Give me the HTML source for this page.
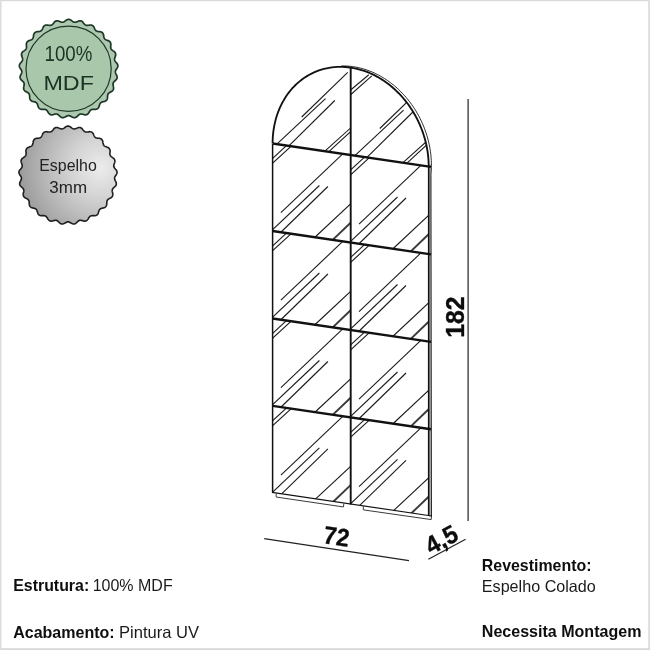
<!DOCTYPE html>
<html><head><meta charset="utf-8"><title>Espelho</title>
<style>
html,body{margin:0;padding:0;background:#fff;}
body{width:650px;height:650px;overflow:hidden;font-family:"Liberation Sans",sans-serif;}
svg{display:block;will-change:transform;}
</style></head><body>
<svg width="650" height="650" viewBox="0 0 650 650">
<defs>
<radialGradient id="silver" gradientUnits="userSpaceOnUse" cx="100" cy="168" r="85"><stop offset="0" stop-color="#ececec"/><stop offset="0.35" stop-color="#d3d3d3"/><stop offset="0.75" stop-color="#aeaeae"/><stop offset="1" stop-color="#969696"/></radialGradient>
<clipPath id="cAL"><polygon points="350.70,155.01 350.70,0.00 350.65,67.60 347.93,67.26 345.21,67.01 342.49,66.88 339.79,66.85 337.10,66.93 334.42,67.12 331.77,67.42 329.14,67.82 326.53,68.33 323.96,68.94 321.41,69.66 318.90,70.48 316.44,71.41 314.01,72.43 311.62,73.56 309.29,74.79 307.00,76.11 304.77,77.53 302.60,79.05 300.48,80.66 298.42,82.36 296.43,84.14 294.51,86.02 292.65,87.97 290.86,90.01 289.15,92.13 287.51,94.32 285.94,96.59 284.46,98.93 283.06,101.34 281.74,103.81 280.50,106.35 279.35,108.95 278.28,111.60 277.31,114.30 276.42,117.05 275.62,119.85 274.92,122.70 274.31,125.58 273.79,128.50 273.36,131.45 273.03,134.43 272.79,137.43 272.65,140.46 272.60,143.50 272.60,143.50"/></clipPath>
<clipPath id="cAR"><polygon points="428.70,166.51 428.70,166.51 428.65,163.45 428.51,160.38 428.27,157.31 427.94,154.23 427.51,151.16 426.99,148.09 426.38,145.02 425.68,141.97 424.88,138.94 423.99,135.92 423.02,132.93 421.95,129.97 420.80,127.03 419.56,124.13 418.24,121.27 416.84,118.45 415.36,115.67 413.79,112.94 412.15,110.26 410.44,107.64 408.65,105.07 406.79,102.57 404.87,100.13 402.88,97.75 400.82,95.45 398.70,93.22 396.53,91.06 394.30,88.98 392.01,86.98 389.67,85.07 387.29,83.24 384.86,81.49 382.40,79.84 379.89,78.28 377.34,76.81 374.77,75.44 372.16,74.16 369.53,72.98 366.88,71.91 364.20,70.93 361.51,70.06 358.81,69.29 356.09,68.62 353.37,68.06 350.70,0.00 350.70,155.01"/></clipPath>
<clipPath id="c00"><polygon points="272.60,143.50 350.70,155.01 350.70,242.51 272.60,231.00"/></clipPath>
<clipPath id="c01"><polygon points="350.70,155.01 428.70,166.51 428.70,254.01 350.70,242.51"/></clipPath>
<clipPath id="c10"><polygon points="272.60,231.00 350.70,242.51 350.70,330.01 272.60,318.50"/></clipPath>
<clipPath id="c11"><polygon points="350.70,242.51 428.70,254.01 428.70,341.51 350.70,330.01"/></clipPath>
<clipPath id="c20"><polygon points="272.60,318.50 350.70,330.01 350.70,417.41 272.60,405.90"/></clipPath>
<clipPath id="c21"><polygon points="350.70,330.01 428.70,341.51 428.70,428.91 350.70,417.41"/></clipPath>
<clipPath id="c30"><polygon points="272.60,405.90 350.70,417.41 350.70,504.01 272.60,492.50"/></clipPath>
<clipPath id="c31"><polygon points="350.70,417.41 428.70,428.91 428.70,515.51 350.70,504.01"/></clipPath>
</defs>
<rect x="0" y="0" width="650" height="650" fill="#fff"/>
<rect x="0" y="0" width="650" height="1.2" fill="#d9d9d9"/>
<rect x="0" y="0" width="1.5" height="650" fill="#dcdcdc"/>
<rect x="648.2" y="0" width="1.8" height="650" fill="#dcdddd"/>
<rect x="0" y="648.2" width="650" height="1.8" fill="#d9d9d9"/>
<path d="M116.70,68.70 L117.09,68.19 L117.38,67.68 L117.61,67.16 L117.76,66.64 L117.85,66.12 L117.85,65.60 L117.78,65.09 L117.63,64.58 L117.41,64.09 L117.13,63.60 L116.77,63.13 L116.32,62.67 L115.93,62.22 L115.57,61.76 L115.23,61.31 L114.96,60.86 L114.75,60.40 L114.62,59.92 L114.57,59.43 L114.59,58.92 L114.68,58.40 L114.82,57.86 L115.00,57.30 L115.19,56.74 L115.44,56.15 L115.60,55.58 L115.68,55.02 L115.71,54.48 L115.66,53.95 L115.53,53.45 L115.34,52.97 L115.07,52.52 L114.73,52.09 L114.33,51.69 L113.88,51.32 L113.32,50.99 L112.83,50.65 L112.37,50.30 L111.93,49.95 L111.55,49.58 L111.24,49.18 L110.99,48.75 L110.82,48.29 L110.71,47.79 L110.67,47.26 L110.67,46.71 L110.71,46.12 L110.75,45.53 L110.85,44.89 L110.86,44.30 L110.80,43.74 L110.69,43.21 L110.51,42.71 L110.27,42.26 L109.96,41.84 L109.58,41.47 L109.15,41.14 L108.67,40.85 L108.13,40.61 L107.51,40.43 L106.96,40.21 L106.42,40.00 L105.91,39.76 L105.45,39.50 L105.04,39.19 L104.70,38.84 L104.42,38.43 L104.19,37.98 L104.02,37.48 L103.88,36.93 L103.77,36.36 L103.66,35.77 L103.60,35.13 L103.46,34.56 L103.27,34.03 L103.03,33.54 L102.73,33.11 L102.38,32.73 L101.98,32.40 L101.53,32.13 L101.02,31.92 L100.48,31.76 L99.90,31.66 L99.26,31.64 L98.67,31.57 L98.09,31.49 L97.54,31.39 L97.03,31.25 L96.56,31.05 L96.14,30.80 L95.76,30.48 L95.43,30.09 L95.14,29.65 L94.87,29.16 L94.62,28.63 L94.37,28.09 L94.16,27.48 L93.88,26.96 L93.56,26.50 L93.20,26.09 L92.81,25.74 L92.37,25.45 L91.90,25.24 L91.40,25.09 L90.86,25.01 L90.30,25.00 L89.71,25.04 L89.08,25.18 L88.49,25.26 L87.91,25.33 L87.35,25.37 L86.82,25.36 L86.32,25.28 L85.85,25.14 L85.40,24.92 L84.99,24.63 L84.59,24.28 L84.21,23.87 L83.84,23.42 L83.46,22.95 L83.10,22.42 L82.70,21.99 L82.28,21.62 L81.83,21.31 L81.36,21.07 L80.87,20.90 L80.36,20.81 L79.84,20.79 L79.30,20.85 L78.74,20.97 L78.19,21.16 L77.61,21.45 L77.06,21.68 L76.52,21.89 L75.99,22.07 L75.47,22.19 L74.96,22.24 L74.47,22.22 L73.99,22.12 L73.51,21.94 L73.04,21.69 L72.57,21.39 L72.10,21.05 L71.62,20.69 L71.14,20.27 L70.64,19.95 L70.14,19.69 L69.63,19.50 L69.12,19.39 L68.60,19.35 L68.08,19.39 L67.57,19.50 L67.06,19.69 L66.56,19.95 L66.06,20.27 L65.58,20.69 L65.10,21.05 L64.63,21.39 L64.16,21.69 L63.69,21.94 L63.21,22.12 L62.73,22.22 L62.24,22.24 L61.73,22.19 L61.21,22.07 L60.68,21.89 L60.14,21.68 L59.59,21.45 L59.01,21.16 L58.46,20.97 L57.90,20.85 L57.36,20.79 L56.84,20.81 L56.33,20.90 L55.84,21.07 L55.37,21.31 L54.92,21.62 L54.50,21.99 L54.10,22.42 L53.74,22.95 L53.36,23.42 L52.99,23.87 L52.61,24.28 L52.21,24.63 L51.80,24.92 L51.35,25.14 L50.88,25.28 L50.38,25.36 L49.85,25.37 L49.29,25.33 L48.71,25.26 L48.12,25.18 L47.49,25.04 L46.90,25.00 L46.34,25.01 L45.80,25.09 L45.30,25.24 L44.83,25.45 L44.39,25.74 L44.00,26.09 L43.64,26.50 L43.32,26.96 L43.04,27.48 L42.83,28.09 L42.58,28.63 L42.33,29.16 L42.06,29.65 L41.77,30.09 L41.44,30.48 L41.06,30.80 L40.64,31.05 L40.17,31.25 L39.66,31.39 L39.11,31.49 L38.53,31.57 L37.94,31.64 L37.30,31.66 L36.72,31.76 L36.18,31.92 L35.67,32.13 L35.22,32.40 L34.82,32.73 L34.47,33.11 L34.17,33.54 L33.93,34.03 L33.74,34.56 L33.60,35.13 L33.54,35.77 L33.43,36.36 L33.32,36.93 L33.18,37.48 L33.01,37.98 L32.78,38.43 L32.50,38.84 L32.16,39.19 L31.75,39.50 L31.29,39.76 L30.78,40.00 L30.24,40.21 L29.69,40.43 L29.07,40.61 L28.53,40.85 L28.05,41.14 L27.62,41.47 L27.24,41.84 L26.93,42.26 L26.69,42.71 L26.51,43.21 L26.40,43.74 L26.34,44.30 L26.35,44.89 L26.45,45.53 L26.49,46.12 L26.53,46.71 L26.53,47.26 L26.49,47.79 L26.38,48.29 L26.21,48.75 L25.96,49.18 L25.65,49.58 L25.27,49.95 L24.83,50.30 L24.37,50.65 L23.88,50.99 L23.32,51.32 L22.87,51.69 L22.47,52.09 L22.13,52.52 L21.86,52.97 L21.67,53.45 L21.54,53.95 L21.49,54.48 L21.52,55.02 L21.60,55.58 L21.76,56.15 L22.01,56.74 L22.20,57.30 L22.38,57.86 L22.52,58.40 L22.61,58.92 L22.63,59.43 L22.58,59.92 L22.45,60.40 L22.24,60.86 L21.97,61.31 L21.63,61.76 L21.27,62.22 L20.88,62.67 L20.43,63.13 L20.07,63.60 L19.79,64.09 L19.57,64.58 L19.42,65.09 L19.35,65.60 L19.35,66.12 L19.44,66.64 L19.59,67.16 L19.82,67.68 L20.11,68.19 L20.50,68.70 L20.83,69.20 L21.14,69.69 L21.41,70.18 L21.62,70.67 L21.77,71.15 L21.84,71.64 L21.83,72.13 L21.75,72.63 L21.59,73.14 L21.39,73.66 L21.14,74.19 L20.88,74.73 L20.55,75.28 L20.33,75.83 L20.17,76.37 L20.08,76.91 L20.07,77.43 L20.12,77.95 L20.26,78.45 L20.47,78.93 L20.75,79.40 L21.10,79.84 L21.50,80.27 L22.01,80.66 L22.45,81.07 L22.87,81.47 L23.26,81.87 L23.59,82.29 L23.85,82.72 L24.04,83.18 L24.16,83.66 L24.20,84.16 L24.18,84.69 L24.10,85.25 L24.00,85.82 L23.88,86.41 L23.70,87.02 L23.62,87.61 L23.60,88.17 L23.65,88.71 L23.76,89.23 L23.95,89.71 L24.20,90.16 L24.53,90.58 L24.91,90.96 L25.36,91.31 L25.86,91.62 L26.45,91.87 L26.98,92.15 L27.49,92.44 L27.96,92.73 L28.38,93.06 L28.75,93.41 L29.04,93.80 L29.27,94.24 L29.44,94.72 L29.55,95.24 L29.62,95.79 L29.66,96.38 L29.69,96.97 L29.67,97.61 L29.73,98.20 L29.86,98.75 L30.04,99.26 L30.28,99.73 L30.58,100.16 L30.93,100.53 L31.35,100.85 L31.82,101.12 L32.34,101.35 L32.90,101.53 L33.54,101.63 L34.12,101.77 L34.68,101.92 L35.21,102.09 L35.70,102.29 L36.14,102.55 L36.53,102.85 L36.86,103.22 L37.14,103.64 L37.38,104.12 L37.58,104.64 L37.76,105.19 L37.94,105.76 L38.08,106.39 L38.29,106.94 L38.55,107.44 L38.85,107.89 L39.20,108.29 L39.59,108.62 L40.03,108.90 L40.52,109.11 L41.04,109.25 L41.60,109.34 L42.19,109.37 L42.83,109.31 L43.42,109.30 L44.01,109.31 L44.57,109.34 L45.09,109.42 L45.58,109.55 L46.03,109.75 L46.44,110.03 L46.82,110.37 L47.16,110.77 L47.49,111.22 L47.81,111.71 L48.12,112.22 L48.41,112.79 L48.75,113.28 L49.13,113.70 L49.53,114.06 L49.97,114.36 L50.43,114.58 L50.93,114.74 L51.45,114.82 L51.99,114.83 L52.55,114.78 L53.13,114.66 L53.74,114.45 L54.31,114.29 L54.88,114.15 L55.43,114.04 L55.96,113.99 L56.46,113.99 L56.95,114.08 L57.41,114.24 L57.86,114.48 L58.30,114.78 L58.73,115.14 L59.16,115.53 L59.59,115.95 L60.01,116.43 L60.46,116.81 L60.93,117.13 L61.41,117.38 L61.91,117.56 L62.41,117.66 L62.93,117.69 L63.46,117.64 L63.99,117.51 L64.52,117.32 L65.05,117.07 L65.58,116.71 L66.10,116.41 L66.61,116.13 L67.12,115.89 L67.62,115.71 L68.11,115.59 L68.60,115.55 L69.09,115.59 L69.58,115.71 L70.08,115.89 L70.59,116.13 L71.10,116.41 L71.62,116.71 L72.15,117.07 L72.68,117.32 L73.21,117.51 L73.74,117.64 L74.27,117.69 L74.79,117.66 L75.29,117.56 L75.79,117.38 L76.27,117.13 L76.74,116.81 L77.19,116.43 L77.61,115.95 L78.04,115.53 L78.47,115.14 L78.90,114.78 L79.34,114.48 L79.79,114.24 L80.25,114.08 L80.74,113.99 L81.24,113.99 L81.77,114.04 L82.32,114.15 L82.89,114.29 L83.46,114.45 L84.07,114.66 L84.65,114.78 L85.21,114.83 L85.75,114.82 L86.27,114.74 L86.77,114.58 L87.23,114.36 L87.67,114.06 L88.07,113.70 L88.45,113.28 L88.79,112.79 L89.08,112.22 L89.39,111.71 L89.71,111.22 L90.04,110.77 L90.38,110.37 L90.76,110.03 L91.17,109.75 L91.62,109.55 L92.11,109.42 L92.63,109.34 L93.19,109.31 L93.78,109.30 L94.37,109.31 L95.01,109.37 L95.60,109.34 L96.16,109.25 L96.68,109.11 L97.17,108.90 L97.61,108.62 L98.00,108.29 L98.35,107.89 L98.65,107.44 L98.91,106.94 L99.12,106.39 L99.26,105.76 L99.44,105.19 L99.62,104.64 L99.82,104.12 L100.06,103.64 L100.34,103.22 L100.67,102.85 L101.06,102.55 L101.50,102.29 L101.99,102.09 L102.52,101.92 L103.08,101.77 L103.66,101.63 L104.30,101.53 L104.86,101.35 L105.38,101.12 L105.85,100.85 L106.27,100.53 L106.62,100.16 L106.92,99.73 L107.16,99.26 L107.34,98.75 L107.47,98.20 L107.53,97.61 L107.51,96.97 L107.54,96.38 L107.58,95.79 L107.65,95.24 L107.76,94.72 L107.93,94.24 L108.16,93.80 L108.45,93.41 L108.82,93.06 L109.24,92.73 L109.71,92.44 L110.22,92.15 L110.75,91.87 L111.34,91.62 L111.84,91.31 L112.29,90.96 L112.67,90.58 L113.00,90.16 L113.25,89.71 L113.44,89.23 L113.55,88.71 L113.60,88.17 L113.58,87.61 L113.50,87.02 L113.32,86.41 L113.20,85.82 L113.10,85.25 L113.02,84.69 L113.00,84.16 L113.04,83.66 L113.16,83.18 L113.35,82.72 L113.61,82.29 L113.94,81.87 L114.33,81.47 L114.75,81.07 L115.19,80.66 L115.70,80.27 L116.10,79.84 L116.45,79.40 L116.73,78.93 L116.94,78.45 L117.08,77.95 L117.13,77.43 L117.12,76.91 L117.03,76.37 L116.87,75.83 L116.65,75.28 L116.32,74.73 L116.06,74.19 L115.81,73.66 L115.61,73.14 L115.45,72.63 L115.37,72.13 L115.36,71.64 L115.43,71.15 L115.58,70.67 L115.79,70.18 L116.06,69.69 L116.37,69.20 L116.70,68.70Z" fill="#aec8b0" stroke="#1d3826" stroke-width="1.7" stroke-linejoin="round"/>
<circle cx="68.6" cy="68.7" r="42.6" fill="#a9c7ab" stroke="#1d3826" stroke-width="1.2"/>
<text x="68.4" y="61.0" text-anchor="middle" font-family="Liberation Sans, sans-serif" font-size="21.5" fill="#1c3323" textLength="47.8" lengthAdjust="spacingAndGlyphs">100%</text>
<text x="68.7" y="90.3" text-anchor="middle" font-family="Liberation Sans, sans-serif" font-size="21" fill="#1c3323" textLength="50.5" lengthAdjust="spacingAndGlyphs">MDF</text>
<path d="M115.90,175.20 L116.29,174.69 L116.58,174.18 L116.81,173.67 L116.96,173.15 L117.05,172.63 L117.05,172.11 L116.98,171.60 L116.83,171.10 L116.61,170.60 L116.33,170.12 L115.98,169.65 L115.52,169.20 L115.14,168.74 L114.77,168.29 L114.44,167.85 L114.16,167.39 L113.95,166.93 L113.82,166.46 L113.77,165.97 L113.79,165.47 L113.88,164.94 L114.03,164.40 L114.20,163.85 L114.40,163.29 L114.65,162.70 L114.80,162.13 L114.89,161.58 L114.91,161.04 L114.87,160.51 L114.74,160.01 L114.55,159.53 L114.28,159.08 L113.94,158.66 L113.55,158.26 L113.09,157.89 L112.54,157.57 L112.05,157.22 L111.58,156.88 L111.15,156.53 L110.77,156.16 L110.45,155.76 L110.21,155.34 L110.04,154.88 L109.93,154.38 L109.89,153.86 L109.90,153.30 L109.93,152.72 L109.98,152.12 L110.08,151.49 L110.08,150.90 L110.03,150.34 L109.92,149.81 L109.74,149.32 L109.50,148.86 L109.19,148.45 L108.82,148.08 L108.39,147.75 L107.90,147.47 L107.37,147.22 L106.75,147.05 L106.20,146.83 L105.66,146.62 L105.15,146.38 L104.69,146.12 L104.29,145.82 L103.94,145.46 L103.66,145.06 L103.44,144.61 L103.27,144.11 L103.13,143.57 L103.02,143.00 L102.92,142.41 L102.86,141.77 L102.72,141.20 L102.53,140.67 L102.29,140.19 L101.99,139.75 L101.65,139.37 L101.24,139.05 L100.79,138.78 L100.29,138.57 L99.75,138.41 L99.17,138.31 L98.53,138.29 L97.94,138.23 L97.36,138.15 L96.82,138.05 L96.31,137.91 L95.84,137.71 L95.42,137.46 L95.05,137.14 L94.72,136.76 L94.43,136.31 L94.16,135.82 L93.91,135.30 L93.67,134.76 L93.45,134.15 L93.17,133.63 L92.86,133.17 L92.50,132.76 L92.11,132.41 L91.68,132.13 L91.21,131.92 L90.70,131.77 L90.17,131.69 L89.61,131.67 L89.02,131.72 L88.39,131.86 L87.81,131.94 L87.23,132.01 L86.67,132.05 L86.14,132.04 L85.64,131.97 L85.17,131.83 L84.73,131.61 L84.32,131.32 L83.93,130.96 L83.55,130.55 L83.17,130.11 L82.80,129.64 L82.44,129.11 L82.05,128.68 L81.62,128.31 L81.18,128.00 L80.71,127.76 L80.22,127.59 L79.72,127.50 L79.19,127.49 L78.65,127.54 L78.10,127.67 L77.55,127.86 L76.98,128.15 L76.43,128.38 L75.88,128.59 L75.35,128.76 L74.84,128.88 L74.34,128.94 L73.85,128.92 L73.37,128.82 L72.89,128.64 L72.42,128.39 L71.96,128.09 L71.48,127.75 L71.01,127.39 L70.53,126.97 L70.03,126.65 L69.53,126.39 L69.03,126.20 L68.51,126.09 L68.00,126.05 L67.49,126.09 L66.97,126.20 L66.47,126.39 L65.97,126.65 L65.47,126.97 L64.99,127.39 L64.52,127.75 L64.04,128.09 L63.58,128.39 L63.11,128.64 L62.63,128.82 L62.15,128.92 L61.66,128.94 L61.16,128.88 L60.65,128.76 L60.12,128.59 L59.57,128.38 L59.02,128.15 L58.45,127.86 L57.90,127.67 L57.35,127.54 L56.81,127.49 L56.28,127.50 L55.78,127.59 L55.29,127.76 L54.82,128.00 L54.38,128.31 L53.95,128.68 L53.56,129.11 L53.20,129.64 L52.83,130.11 L52.45,130.55 L52.07,130.96 L51.68,131.32 L51.27,131.61 L50.83,131.83 L50.36,131.97 L49.86,132.04 L49.33,132.05 L48.77,132.01 L48.19,131.94 L47.61,131.86 L46.98,131.72 L46.39,131.67 L45.83,131.69 L45.30,131.77 L44.79,131.92 L44.32,132.13 L43.89,132.41 L43.50,132.76 L43.14,133.17 L42.83,133.63 L42.55,134.15 L42.33,134.76 L42.09,135.30 L41.84,135.82 L41.57,136.31 L41.28,136.76 L40.95,137.14 L40.58,137.46 L40.16,137.71 L39.69,137.91 L39.18,138.05 L38.64,138.15 L38.06,138.23 L37.47,138.29 L36.83,138.31 L36.25,138.41 L35.71,138.57 L35.21,138.78 L34.76,139.05 L34.35,139.37 L34.01,139.75 L33.71,140.19 L33.47,140.67 L33.28,141.20 L33.14,141.77 L33.08,142.41 L32.98,143.00 L32.87,143.57 L32.73,144.11 L32.56,144.61 L32.34,145.06 L32.06,145.46 L31.71,145.82 L31.31,146.12 L30.85,146.38 L30.34,146.62 L29.80,146.83 L29.25,147.05 L28.63,147.22 L28.10,147.47 L27.61,147.75 L27.18,148.08 L26.81,148.45 L26.50,148.86 L26.26,149.32 L26.08,149.81 L25.97,150.34 L25.92,150.90 L25.92,151.49 L26.02,152.12 L26.07,152.72 L26.10,153.30 L26.11,153.86 L26.07,154.38 L25.96,154.88 L25.79,155.34 L25.55,155.76 L25.23,156.16 L24.85,156.53 L24.42,156.88 L23.95,157.22 L23.46,157.57 L22.91,157.89 L22.45,158.26 L22.06,158.66 L21.72,159.08 L21.45,159.53 L21.26,160.01 L21.13,160.51 L21.09,161.04 L21.11,161.58 L21.20,162.13 L21.35,162.70 L21.60,163.29 L21.80,163.85 L21.97,164.40 L22.12,164.94 L22.21,165.47 L22.23,165.97 L22.18,166.46 L22.05,166.93 L21.84,167.39 L21.56,167.85 L21.23,168.29 L20.86,168.74 L20.48,169.20 L20.02,169.65 L19.67,170.12 L19.39,170.60 L19.17,171.10 L19.02,171.60 L18.95,172.11 L18.95,172.63 L19.04,173.15 L19.19,173.67 L19.42,174.18 L19.71,174.69 L20.10,175.20 L20.43,175.70 L20.74,176.19 L21.01,176.68 L21.22,177.16 L21.37,177.64 L21.44,178.13 L21.43,178.62 L21.35,179.12 L21.19,179.62 L20.98,180.14 L20.74,180.67 L20.48,181.20 L20.15,181.75 L19.93,182.30 L19.77,182.84 L19.68,183.37 L19.66,183.90 L19.72,184.41 L19.86,184.91 L20.06,185.39 L20.34,185.85 L20.69,186.30 L21.10,186.72 L21.60,187.11 L22.04,187.51 L22.47,187.91 L22.85,188.32 L23.18,188.73 L23.44,189.16 L23.63,189.62 L23.75,190.09 L23.79,190.60 L23.76,191.13 L23.69,191.68 L23.58,192.25 L23.46,192.83 L23.28,193.45 L23.20,194.03 L23.19,194.59 L23.23,195.13 L23.34,195.65 L23.53,196.13 L23.78,196.58 L24.10,196.99 L24.49,197.37 L24.94,197.71 L25.44,198.02 L26.02,198.28 L26.55,198.56 L27.06,198.84 L27.53,199.13 L27.95,199.45 L28.32,199.80 L28.61,200.20 L28.84,200.63 L29.00,201.11 L29.11,201.63 L29.18,202.18 L29.22,202.76 L29.25,203.35 L29.23,204.00 L29.29,204.58 L29.42,205.13 L29.59,205.64 L29.83,206.11 L30.13,206.53 L30.49,206.90 L30.90,207.22 L31.37,207.49 L31.89,207.72 L32.45,207.89 L33.08,207.99 L33.66,208.13 L34.22,208.28 L34.75,208.45 L35.24,208.65 L35.68,208.90 L36.07,209.21 L36.39,209.57 L36.67,209.99 L36.91,210.47 L37.11,210.99 L37.29,211.54 L37.47,212.11 L37.61,212.73 L37.82,213.28 L38.07,213.78 L38.37,214.23 L38.72,214.63 L39.11,214.96 L39.55,215.23 L40.03,215.44 L40.55,215.59 L41.11,215.67 L41.70,215.70 L42.33,215.64 L42.93,215.63 L43.51,215.64 L44.07,215.67 L44.59,215.75 L45.08,215.88 L45.53,216.08 L45.94,216.35 L46.31,216.69 L46.66,217.09 L46.98,217.54 L47.29,218.03 L47.61,218.54 L47.90,219.11 L48.24,219.59 L48.61,220.01 L49.01,220.38 L49.44,220.67 L49.91,220.90 L50.40,221.05 L50.92,221.13 L51.46,221.14 L52.02,221.09 L52.60,220.97 L53.20,220.76 L53.77,220.60 L54.34,220.46 L54.88,220.35 L55.41,220.29 L55.92,220.30 L56.40,220.38 L56.86,220.54 L57.31,220.78 L57.74,221.08 L58.17,221.44 L58.60,221.84 L59.02,222.25 L59.45,222.73 L59.90,223.11 L60.36,223.43 L60.84,223.68 L61.33,223.86 L61.84,223.96 L62.36,223.99 L62.88,223.94 L63.40,223.81 L63.93,223.62 L64.46,223.37 L64.99,223.01 L65.51,222.71 L66.02,222.43 L66.52,222.19 L67.02,222.01 L67.51,221.89 L68.00,221.85 L68.49,221.89 L68.98,222.01 L69.48,222.19 L69.98,222.43 L70.49,222.71 L71.01,223.01 L71.54,223.37 L72.07,223.62 L72.60,223.81 L73.12,223.94 L73.64,223.99 L74.16,223.96 L74.67,223.86 L75.16,223.68 L75.64,223.43 L76.10,223.11 L76.55,222.73 L76.98,222.25 L77.40,221.84 L77.83,221.44 L78.26,221.08 L78.69,220.78 L79.14,220.54 L79.60,220.38 L80.08,220.30 L80.59,220.29 L81.12,220.35 L81.66,220.46 L82.23,220.60 L82.80,220.76 L83.40,220.97 L83.98,221.09 L84.54,221.14 L85.08,221.13 L85.60,221.05 L86.09,220.90 L86.56,220.67 L86.99,220.38 L87.39,220.01 L87.76,219.59 L88.10,219.11 L88.39,218.54 L88.71,218.03 L89.02,217.54 L89.34,217.09 L89.69,216.69 L90.06,216.35 L90.47,216.08 L90.92,215.88 L91.41,215.75 L91.93,215.67 L92.49,215.64 L93.07,215.63 L93.67,215.64 L94.30,215.70 L94.89,215.67 L95.45,215.59 L95.97,215.44 L96.45,215.23 L96.89,214.96 L97.28,214.63 L97.63,214.23 L97.93,213.78 L98.18,213.28 L98.39,212.73 L98.53,212.11 L98.71,211.54 L98.89,210.99 L99.09,210.47 L99.33,209.99 L99.61,209.57 L99.93,209.21 L100.32,208.90 L100.76,208.65 L101.25,208.45 L101.78,208.28 L102.34,208.13 L102.92,207.99 L103.55,207.89 L104.11,207.72 L104.63,207.49 L105.10,207.22 L105.51,206.90 L105.87,206.53 L106.17,206.11 L106.41,205.64 L106.58,205.13 L106.71,204.58 L106.77,204.00 L106.75,203.35 L106.78,202.76 L106.82,202.18 L106.89,201.63 L107.00,201.11 L107.16,200.63 L107.39,200.20 L107.68,199.80 L108.05,199.45 L108.47,199.13 L108.94,198.84 L109.45,198.56 L109.98,198.28 L110.56,198.02 L111.06,197.71 L111.51,197.37 L111.90,196.99 L112.22,196.58 L112.47,196.13 L112.66,195.65 L112.77,195.13 L112.81,194.59 L112.80,194.03 L112.72,193.45 L112.54,192.83 L112.42,192.25 L112.31,191.68 L112.24,191.13 L112.21,190.60 L112.25,190.09 L112.37,189.62 L112.56,189.16 L112.82,188.73 L113.15,188.32 L113.53,187.91 L113.96,187.51 L114.40,187.11 L114.90,186.72 L115.31,186.30 L115.66,185.85 L115.94,185.39 L116.14,184.91 L116.28,184.41 L116.34,183.90 L116.32,183.37 L116.23,182.84 L116.07,182.30 L115.85,181.75 L115.52,181.20 L115.26,180.67 L115.02,180.14 L114.81,179.62 L114.65,179.12 L114.57,178.62 L114.56,178.13 L114.63,177.64 L114.78,177.16 L114.99,176.68 L115.26,176.19 L115.57,175.70 L115.90,175.20Z" fill="url(#silver)" stroke="#1f1f1f" stroke-width="1.6" stroke-linejoin="round"/>
<text x="68" y="170.6" text-anchor="middle" font-family="Liberation Sans, sans-serif" font-size="15.8" fill="#222" textLength="57.5" lengthAdjust="spacingAndGlyphs">Espelho</text>
<text x="68.2" y="193" text-anchor="middle" font-family="Liberation Sans, sans-serif" font-size="15.8" fill="#222" textLength="37.7" lengthAdjust="spacingAndGlyphs">3mm</text>
<g clip-path="url(#c00)" stroke="#1a1a1a" fill="none" stroke-linecap="butt">
<line x1="270.60" y1="160.20" x2="288.60" y2="143.70" stroke-width="1.1"/>
<line x1="270.60" y1="165.10" x2="292.60" y2="144.90" stroke-width="1.1"/>
<line x1="280.90" y1="212.70" x2="344.60" y2="152.20" stroke-width="1.1"/>
<line x1="270.60" y1="231.60" x2="319.40" y2="185.50" stroke-width="1.1"/>
<line x1="280.60" y1="232.50" x2="327.90" y2="186.50" stroke-width="1.1"/>
<line x1="314.60" y1="237.50" x2="352.60" y2="202.00" stroke-width="1.1"/>
<line x1="330.60" y1="241.90" x2="352.60" y2="220.80" stroke-width="1.9" stroke="#3a3a3a"/>
</g>
<g clip-path="url(#c01)" stroke="#1a1a1a" fill="none" stroke-linecap="butt">
<line x1="348.70" y1="171.71" x2="366.70" y2="155.21" stroke-width="1.1"/>
<line x1="348.70" y1="176.61" x2="370.70" y2="156.41" stroke-width="1.1"/>
<line x1="359.00" y1="224.21" x2="422.70" y2="163.71" stroke-width="1.1"/>
<line x1="348.70" y1="243.11" x2="397.50" y2="197.01" stroke-width="1.1"/>
<line x1="358.70" y1="244.01" x2="406.00" y2="198.01" stroke-width="1.1"/>
<line x1="392.70" y1="249.01" x2="430.70" y2="213.51" stroke-width="1.1"/>
<line x1="408.70" y1="253.41" x2="430.70" y2="232.31" stroke-width="1.9" stroke="#3a3a3a"/>
</g>
<g clip-path="url(#c10)" stroke="#1a1a1a" fill="none" stroke-linecap="butt">
<line x1="270.60" y1="247.70" x2="288.60" y2="231.20" stroke-width="1.1"/>
<line x1="270.60" y1="252.60" x2="292.60" y2="232.40" stroke-width="1.1"/>
<line x1="280.90" y1="300.20" x2="344.60" y2="239.70" stroke-width="1.1"/>
<line x1="270.60" y1="319.10" x2="319.40" y2="273.00" stroke-width="1.1"/>
<line x1="280.60" y1="320.00" x2="327.90" y2="274.00" stroke-width="1.1"/>
<line x1="314.60" y1="325.00" x2="352.60" y2="289.50" stroke-width="1.1"/>
<line x1="330.60" y1="329.40" x2="352.60" y2="308.30" stroke-width="1.9" stroke="#3a3a3a"/>
</g>
<g clip-path="url(#c11)" stroke="#1a1a1a" fill="none" stroke-linecap="butt">
<line x1="348.70" y1="259.21" x2="366.70" y2="242.71" stroke-width="1.1"/>
<line x1="348.70" y1="264.11" x2="370.70" y2="243.91" stroke-width="1.1"/>
<line x1="359.00" y1="311.71" x2="422.70" y2="251.21" stroke-width="1.1"/>
<line x1="348.70" y1="330.61" x2="397.50" y2="284.51" stroke-width="1.1"/>
<line x1="358.70" y1="331.51" x2="406.00" y2="285.51" stroke-width="1.1"/>
<line x1="392.70" y1="336.51" x2="430.70" y2="301.01" stroke-width="1.1"/>
<line x1="408.70" y1="340.91" x2="430.70" y2="319.81" stroke-width="1.9" stroke="#3a3a3a"/>
</g>
<g clip-path="url(#c20)" stroke="#1a1a1a" fill="none" stroke-linecap="butt">
<line x1="270.60" y1="335.20" x2="288.60" y2="318.70" stroke-width="1.1"/>
<line x1="270.60" y1="340.10" x2="292.60" y2="319.90" stroke-width="1.1"/>
<line x1="280.90" y1="387.70" x2="344.60" y2="327.20" stroke-width="1.1"/>
<line x1="270.60" y1="406.60" x2="319.40" y2="360.50" stroke-width="1.1"/>
<line x1="280.60" y1="407.50" x2="327.90" y2="361.50" stroke-width="1.1"/>
<line x1="314.60" y1="412.50" x2="352.60" y2="377.00" stroke-width="1.1"/>
<line x1="330.60" y1="416.90" x2="352.60" y2="395.80" stroke-width="1.9" stroke="#3a3a3a"/>
</g>
<g clip-path="url(#c21)" stroke="#1a1a1a" fill="none" stroke-linecap="butt">
<line x1="348.70" y1="346.71" x2="366.70" y2="330.21" stroke-width="1.1"/>
<line x1="348.70" y1="351.61" x2="370.70" y2="331.41" stroke-width="1.1"/>
<line x1="359.00" y1="399.21" x2="422.70" y2="338.71" stroke-width="1.1"/>
<line x1="348.70" y1="418.11" x2="397.50" y2="372.01" stroke-width="1.1"/>
<line x1="358.70" y1="419.01" x2="406.00" y2="373.01" stroke-width="1.1"/>
<line x1="392.70" y1="424.01" x2="430.70" y2="388.51" stroke-width="1.1"/>
<line x1="408.70" y1="428.41" x2="430.70" y2="407.31" stroke-width="1.9" stroke="#3a3a3a"/>
</g>
<g clip-path="url(#c30)" stroke="#1a1a1a" fill="none" stroke-linecap="butt">
<line x1="270.60" y1="422.60" x2="288.60" y2="406.10" stroke-width="1.1"/>
<line x1="270.60" y1="427.50" x2="292.60" y2="407.30" stroke-width="1.1"/>
<line x1="280.90" y1="475.10" x2="344.60" y2="414.60" stroke-width="1.1"/>
<line x1="270.60" y1="494.00" x2="319.40" y2="447.90" stroke-width="1.1"/>
<line x1="280.60" y1="494.90" x2="327.90" y2="448.90" stroke-width="1.1"/>
<line x1="314.60" y1="499.90" x2="352.60" y2="464.40" stroke-width="1.1"/>
<line x1="330.60" y1="504.30" x2="352.60" y2="483.20" stroke-width="1.9" stroke="#3a3a3a"/>
</g>
<g clip-path="url(#c31)" stroke="#1a1a1a" fill="none" stroke-linecap="butt">
<line x1="348.70" y1="434.11" x2="366.70" y2="417.61" stroke-width="1.1"/>
<line x1="348.70" y1="439.01" x2="370.70" y2="418.81" stroke-width="1.1"/>
<line x1="359.00" y1="486.61" x2="422.70" y2="426.11" stroke-width="1.1"/>
<line x1="348.70" y1="505.51" x2="397.50" y2="459.41" stroke-width="1.1"/>
<line x1="358.70" y1="506.41" x2="406.00" y2="460.41" stroke-width="1.1"/>
<line x1="392.70" y1="511.41" x2="430.70" y2="475.91" stroke-width="1.1"/>
<line x1="408.70" y1="515.81" x2="430.70" y2="494.71" stroke-width="1.9" stroke="#3a3a3a"/>
</g>
<g clip-path="url(#cAL)" stroke="#1a1a1a" fill="none">
<line x1="271.60" y1="79.30" x2="290.70" y2="63.20" stroke-width="1.1"/>
<line x1="271.60" y1="84.00" x2="293.70" y2="64.30" stroke-width="1.1"/>
<line x1="277.10" y1="143.90" x2="325.50" y2="98.60" stroke-width="1.1"/>
<line x1="301.70" y1="117.00" x2="347.70" y2="72.40" stroke-width="1.1"/>
<line x1="287.60" y1="147.20" x2="334.80" y2="100.50" stroke-width="1.1"/>
<line x1="324.60" y1="151.30" x2="352.60" y2="126.20" stroke-width="1.1"/>
<line x1="328.60" y1="151.80" x2="352.60" y2="129.80" stroke-width="1.1"/>
</g>
<g clip-path="url(#cAR)" stroke="#1a1a1a" fill="none">
<line x1="349.70" y1="90.81" x2="368.80" y2="74.71" stroke-width="1.1"/>
<line x1="349.70" y1="95.51" x2="371.80" y2="75.81" stroke-width="1.1"/>
<line x1="355.20" y1="155.41" x2="403.60" y2="110.11" stroke-width="1.1"/>
<line x1="379.80" y1="128.51" x2="425.80" y2="83.91" stroke-width="1.1"/>
<line x1="365.70" y1="158.71" x2="412.90" y2="112.01" stroke-width="1.1"/>
<line x1="402.70" y1="162.81" x2="430.70" y2="137.71" stroke-width="1.1"/>
<line x1="406.70" y1="163.31" x2="430.70" y2="141.31" stroke-width="1.1"/>
</g>
<polyline points="276.2,493.53 276.2,497.03 343.4,506.94 343.9,503.51" fill="none" stroke="#3a3a3a" stroke-width="1.0"/>
<polyline points="363.3,506.37 363.3,509.87 431.2,519.58 431.5,516.42" fill="none" stroke="#3a3a3a" stroke-width="1.0"/>
<line x1="430.1" y1="164.51" x2="430.1" y2="516.71" stroke="#a8a8a8" stroke-width="1.6"/>
<polyline points="341.14,65.98 342.71,65.95 344.29,65.96 345.87,66.00 347.45,66.08 349.04,66.20 350.63,66.36 352.21,66.55 353.80,66.77 355.39,67.04 356.98,67.33 358.57,67.67 360.15,68.04 361.73,68.44 363.31,68.89 364.89,69.36 366.46,69.87 368.02,70.42 369.58,71.00 371.13,71.62 372.67,72.27 374.21,72.95 375.73,73.67 377.25,74.42 378.76,75.20 380.26,76.02 381.74,76.86 383.22,77.74 384.68,78.66 386.13,79.60 387.56,80.57 388.99,81.58 390.39,82.61 391.78,83.67 393.16,84.77 394.52,85.89 395.86,87.04 397.18,88.22 398.49,89.42 399.78,90.65 401.04,91.91 402.29,93.19 403.52,94.50 404.73,95.83 405.91,97.19 407.08,98.57 408.22,99.97 409.34,101.40 410.43,102.85 411.50,104.32 412.55,105.81 413.58,107.32 414.57,108.84 415.55,110.39 416.49,111.96 417.41,113.54 418.31,115.14 419.18,116.75 420.02,118.39 420.83,120.03 421.61,121.69 422.37,123.36 423.10,125.05 423.80,126.75 424.47,128.46 425.11,130.18 425.72,131.91 426.30,133.64 426.85,135.39 427.37,137.15 427.86,138.91 428.31,140.67 428.74,142.45 429.14,144.23 429.50,146.01 429.83,147.79 430.13,149.58 430.40,151.37 430.64,153.16 430.85,154.95 431.02,156.74 431.16,158.53 431.27,160.32 431.34,162.10 431.39,163.89 431.40,165.66 431.38,167.44 431.33,169.20 431.24,170.96 431.12,172.72 430.97,174.46 431.5,516.72" fill="none" stroke="#111" stroke-width="0.9"/>
<line x1="272.6" y1="144.00" x2="272.6" y2="492.50" stroke="#111" stroke-width="1.5"/>
<line x1="428.7" y1="167.01" x2="428.7" y2="515.51" stroke="#111" stroke-width="1.6"/>
<polyline points="428.70,166.51 428.65,163.45 428.51,160.38 428.27,157.31 427.94,154.23 427.51,151.16 426.99,148.09 426.38,145.02 425.68,141.97 424.88,138.94 423.99,135.92 423.02,132.93 421.95,129.97 420.80,127.03 419.56,124.13 418.24,121.27 416.84,118.45 415.36,115.67 413.79,112.94 412.15,110.26 410.44,107.64 408.65,105.07 406.79,102.57 404.87,100.13 402.88,97.75 400.82,95.45 398.70,93.22 396.53,91.06 394.30,88.98 392.01,86.98 389.67,85.07 387.29,83.24 384.86,81.49 382.40,79.84 379.89,78.28 377.34,76.81 374.77,75.44 372.16,74.16 369.53,72.98 366.88,71.91 364.20,70.93 361.51,70.06 358.81,69.29 356.09,68.62 353.37,68.06 350.65,67.60 347.93,67.26 345.21,67.01 342.49,66.88 339.79,66.85 337.10,66.93 334.42,67.12 331.77,67.42 329.14,67.82 326.53,68.33 323.96,68.94 321.41,69.66 318.90,70.48 316.44,71.41 314.01,72.43 311.62,73.56 309.29,74.79 307.00,76.11 304.77,77.53 302.60,79.05 300.48,80.66 298.42,82.36 296.43,84.14 294.51,86.02 292.65,87.97 290.86,90.01 289.15,92.13 287.51,94.32 285.94,96.59 284.46,98.93 283.06,101.34 281.74,103.81 280.50,106.35 279.35,108.95 278.28,111.60 277.31,114.30 276.42,117.05 275.62,119.85 274.92,122.70 274.31,125.58 273.79,128.50 273.36,131.45 273.03,134.43 272.79,137.43 272.65,140.46 272.60,143.50" fill="none" stroke="#111" stroke-width="1.85" stroke-linejoin="round"/>
<line x1="272.0" y1="492.41" x2="431.8" y2="515.97" stroke="#111" stroke-width="1.15"/>
<line x1="350.7" y1="67.90" x2="350.7" y2="504.41" stroke="#111" stroke-width="1.9"/>
<line x1="272.6" y1="143.50" x2="431.0" y2="166.85" stroke="#111" stroke-width="2.45"/>
<line x1="272.6" y1="231.00" x2="431.0" y2="254.35" stroke="#111" stroke-width="2.45"/>
<line x1="272.6" y1="318.50" x2="431.0" y2="341.85" stroke="#111" stroke-width="2.45"/>
<line x1="272.6" y1="405.90" x2="431.0" y2="429.25" stroke="#111" stroke-width="2.45"/>
<line x1="264.2" y1="538.6" x2="409" y2="560.6" stroke="#222" stroke-width="1.2"/>
<line x1="428.4" y1="559.3" x2="465.6" y2="539.2" stroke="#222" stroke-width="1.2"/>
<line x1="468.1" y1="99" x2="468.1" y2="521" stroke="#222" stroke-width="1.2"/>
<text transform="translate(336.6,536.2) rotate(8.75)" text-anchor="middle" y="8.95" font-family="Liberation Sans, sans-serif" font-weight="bold" font-size="25" fill="#0c0c0c" stroke="#0c0c0c" stroke-width="0.35" textLength="25.8" lengthAdjust="spacingAndGlyphs">72</text>
<text transform="translate(441.3,539.2) rotate(-28.4)" text-anchor="middle" y="8.95" font-family="Liberation Sans, sans-serif" font-weight="bold" font-size="25" fill="#0c0c0c" stroke="#0c0c0c" stroke-width="0.35" textLength="33" lengthAdjust="spacingAndGlyphs">4,5</text>
<text transform="translate(454.6,317.1) rotate(-90)" text-anchor="middle" y="8.95" font-family="Liberation Sans, sans-serif" font-weight="bold" font-size="25" fill="#0c0c0c" stroke="#0c0c0c" stroke-width="0.35" textLength="41.2" lengthAdjust="spacingAndGlyphs">182</text>
<text x="13.2" y="591.4" font-family="Liberation Sans, sans-serif" font-weight="bold" font-size="16.5" fill="#0e0e0e" textLength="76" lengthAdjust="spacingAndGlyphs">Estrutura:</text>
<text x="92.7" y="591.4" font-family="Liberation Sans, sans-serif" font-size="16.5" fill="#1a1a1a" textLength="80" lengthAdjust="spacingAndGlyphs">100% MDF</text>
<text x="13.2" y="637.8" font-family="Liberation Sans, sans-serif" font-weight="bold" font-size="16.5" fill="#0e0e0e" textLength="101.5" lengthAdjust="spacingAndGlyphs">Acabamento:</text>
<text x="119" y="637.8" font-family="Liberation Sans, sans-serif" font-size="16.5" fill="#1a1a1a" textLength="80" lengthAdjust="spacingAndGlyphs">Pintura UV</text>
<text x="481.8" y="570.8" font-family="Liberation Sans, sans-serif" font-weight="bold" font-size="16.5" fill="#0e0e0e" textLength="109.7" lengthAdjust="spacingAndGlyphs">Revestimento:</text>
<text x="481.8" y="592" font-family="Liberation Sans, sans-serif" font-size="16.5" fill="#1a1a1a" textLength="114" lengthAdjust="spacingAndGlyphs">Espelho Colado</text>
<text x="481.8" y="637.4" font-family="Liberation Sans, sans-serif" font-weight="bold" font-size="16.5" fill="#0e0e0e" textLength="159.6" lengthAdjust="spacingAndGlyphs">Necessita Montagem</text>
</svg>
</body></html>
